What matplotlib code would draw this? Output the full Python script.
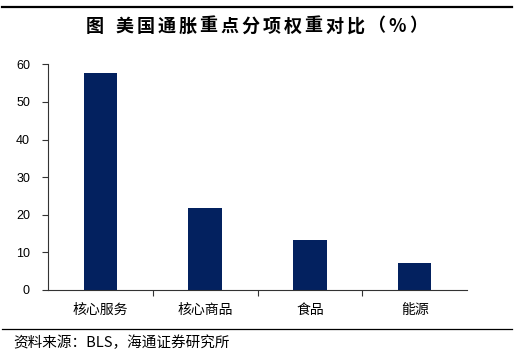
import matplotlib
matplotlib.use("Agg")
import matplotlib.pyplot as plt
from matplotlib.lines import Line2D

plt.rcParams['font.family'] = ['Noto Sans CJK SC', 'DejaVu Sans']

categories = ["核心服务", "核心商品", "食品", "能源"]
values = [57.6, 21.7, 13.2, 7.2]
yticks = [0, 10, 20, 30, 40, 50, 60]
title_head = "图"
title_body = "美国通胀重点分项权重对比（%）"
source = "资料来源：BLS，海通证券研究所"

W, H = 528, 358
fig = plt.figure(figsize=(W / 100, H / 100), dpi=100)
ax = fig.add_axes([48 / W, 1 - 290 / H, (467 - 48) / W, (290 - 64.3) / H])

x = list(range(len(categories)))
ax.bar(x, values, width=0.32, color="#03215f", zorder=2)
ax.set_xlim(-0.5, len(categories) - 0.5)
ax.set_ylim(0, 60)
ax.set_yticks(yticks)
ax.set_yticklabels([str(v) for v in yticks], fontsize=9, family=['Liberation Sans'])
ax.tick_params(axis='y', direction='out', length=4, width=0.8, color='#333333', pad=9)

ax.set_xticks([i + 0.5 for i in range(len(categories) - 1)], minor=False)
ax.set_xticklabels([])
ax.tick_params(axis='x', direction='out', length=4, width=0.8, color='#333333')
for i, c in enumerate(categories):
    ax.text(i, -0.09, c, transform=ax.get_xaxis_transform(), ha='center', va='center', fontsize=10)

for s in ['top', 'right']:
    ax.spines[s].set_visible(False)
for s in ['left', 'bottom']:
    ax.spines[s].set_color('#333333')
    ax.spines[s].set_linewidth(0.8)

fig.add_artist(Line2D([2 / W, 512 / W], [1 - 7 / H, 1 - 7 / H], color='black', lw=1.6))
fig.add_artist(Line2D([2 / W, 512 / W], [1 - 329 / H, 1 - 329 / H], color='black', lw=0.9))

# title with wide character spacing
ty = 1 - 26 / H
fig.text(94.5 / W, ty, title_head, ha='center', va='center', fontsize=13, fontweight='bold')
for i, ch in enumerate(title_body):
    fig.text((124.5 + 21 * i) / W, ty, ch, ha='center', va='center', fontsize=13, fontweight='bold')

fig.text(13 / W, 1 - 343 / H, source, ha='left', va='center', fontsize=10.5)

fig.savefig("out.png", dpi=100, facecolor='white')
